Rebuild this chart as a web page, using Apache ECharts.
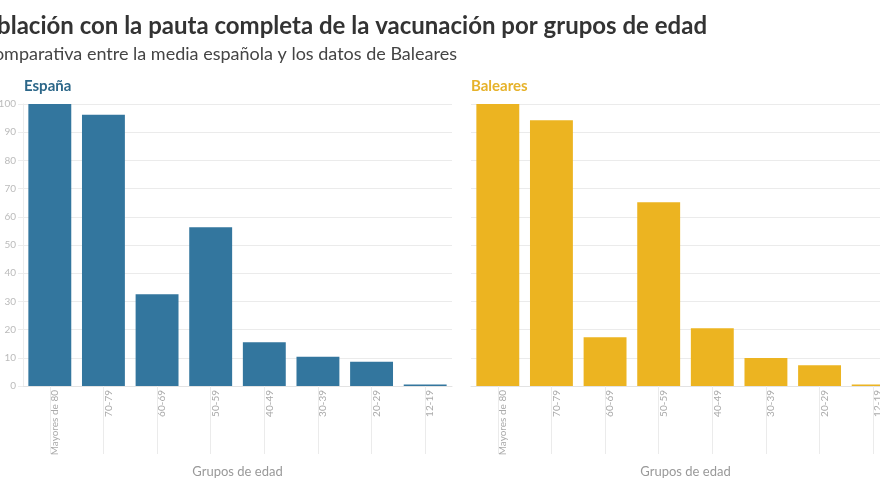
<!DOCTYPE html>
<html>
<head>
<meta charset="utf-8">
<script src="https://cdn.jsdelivr.net/npm/echarts@6/dist/echarts.min.js"></script>
<style>
html,body{margin:0;padding:0;background:#fff;}
#chart{width:880px;height:495px;}
</style>
</head>
<body>
<div id="chart"></div>
<script>
const titleText = 'Población con la pauta completa de la vacunación por grupos de edad';
const subtitleText = 'Comparativa entre la media española y los datos de Baleares';
const categories = ['Mayores de 80', '70-79', '60-69', '50-59', '40-49', '30-39', '20-29', '12-19'];
const espana = [100, 96.2, 32.5, 56.3, 15.5, 10.4, 8.6, 0.5];
const baleares = [100, 94.2, 17.3, 65.2, 20.5, 9.9, 7.4, 0.5];
const yTicks = [0, 10, 20, 30, 40, 50, 60, 70, 80, 90, 100];

const FONT = 'Lato';
const chart = echarts.init(document.getElementById('chart'));

function xAxisFor(gridIndex) {
  return {
    type: 'category', gridIndex: gridIndex, data: categories,
    name: 'Grupos de edad', nameLocation: 'middle', nameGap: 79,
    nameTextStyle: { color: '#999', fontSize: 13, fontFamily: FONT },
    axisLine: { show: true, lineStyle: { color: '#e3e3e3' } },
    axisTick: { show: true, alignWithLabel: true, length: 68, lineStyle: { color: '#ebebeb' } },
    axisLabel: { rotate: 90, color: '#aaa', fontSize: 10, fontFamily: FONT, margin: 4, verticalAlign: 'top' }
  };
}
function yAxisFor(gridIndex, showLabels) {
  return {
    type: 'value', gridIndex: gridIndex, min: 0, max: 100, interval: 10,
    axisLine: { show: showLabels, lineStyle: { color: '#ececec' } },
    axisTick: { show: showLabels, length: 5, lineStyle: { color: '#ececec' } },
    axisLabel: { show: showLabels, color: '#bbb', fontSize: 10, fontFamily: FONT, margin: 7,
      formatter: function (v) { return yTicks.indexOf(v) >= 0 ? String(v) : ''; } },
    splitLine: { show: true, lineStyle: { color: '#ebebeb' } }
  };
}

chart.setOption({
  backgroundColor: '#fff',
  animation: false,
  title: [
    { text: titleText, right: 173, top: 14, padding: 0,
      textStyle: { fontFamily: FONT, fontSize: 24, fontWeight: 'bold', color: '#333' } },
    { text: subtitleText, right: 423, top: 45, padding: 0,
      textStyle: { fontFamily: FONT, fontSize: 18, fontWeight: 'normal', color: '#444' } },
    { text: 'España', left: 24, top: 79, padding: 0,
      textStyle: { fontFamily: FONT, fontSize: 15, fontWeight: 'bold', color: '#2c6789' } },
    { text: 'Baleares', left: 471, top: 79, padding: 0,
      textStyle: { fontFamily: FONT, fontSize: 15, fontWeight: 'bold', color: '#e6b22a' } }
  ],
  grid: [
    { left: 23, top: 104, width: 429, height: 282, outerBoundsMode: 'none', containLabel: false },
    { left: 471, top: 104, width: 429, height: 282, outerBoundsMode: 'none', containLabel: false }
  ],
  xAxis: [xAxisFor(0), xAxisFor(1)],
  yAxis: [yAxisFor(0, true), yAxisFor(1, false)],
  series: [
    { type: 'bar', xAxisIndex: 0, yAxisIndex: 0, data: espana, barCategoryGap: '20%',
      itemStyle: { color: '#33769e' } },
    { type: 'bar', xAxisIndex: 1, yAxisIndex: 1, data: baleares, barCategoryGap: '20%',
      itemStyle: { color: '#ecb421' } }
  ]
});
</script>
</body>
</html>
